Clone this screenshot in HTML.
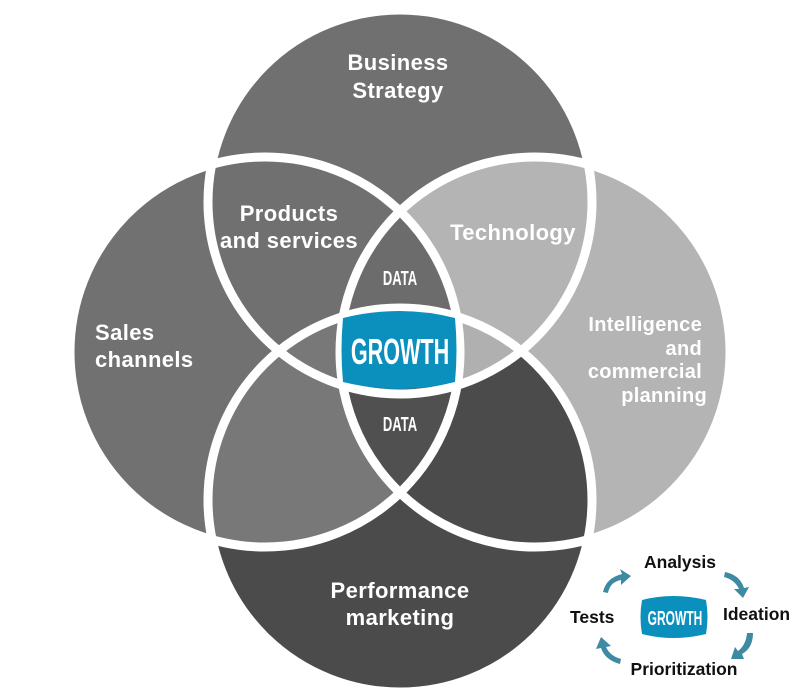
<!DOCTYPE html>
<html><head><meta charset="utf-8"><style>
html,body{margin:0;padding:0;background:#fff;}
svg{display:block;}
.w{font-family:"Liberation Sans",sans-serif;font-weight:bold;fill:#fff;}
.k{font-family:"Liberation Sans",sans-serif;font-weight:bold;fill:#111;}
</style></head><body>
<svg width="800" height="700" viewBox="0 0 800 700" xmlns="http://www.w3.org/2000/svg">
<defs>
<clipPath id="cL"><circle cx="265" cy="352" r="195"/></clipPath>
<clipPath id="cR"><circle cx="535" cy="352" r="195"/></clipPath>
<clipPath id="cT"><circle cx="400" cy="202" r="192"/></clipPath>
<clipPath id="cB"><circle cx="400" cy="500" r="192"/></clipPath>
</defs>
<circle cx="265" cy="352" r="195" fill="#717171"/>
<circle cx="400" cy="202" r="192" fill="#707070"/>
<circle cx="535" cy="352" r="195" fill="#b4b4b4"/>
<circle cx="400" cy="500" r="192" fill="#4b4b4b"/>
<g clip-path="url(#cL)"><circle cx="400" cy="500" r="192" fill="#787878"/></g>
<g clip-path="url(#cR)"><g clip-path="url(#cT)"><circle cx="400" cy="500" r="192" fill="#b0b0b0"/></g></g>
<g clip-path="url(#cL)"><g clip-path="url(#cR)"><circle cx="400" cy="202" r="192" fill="#6c6c6c"/></g></g>
<g clip-path="url(#cL)"><g clip-path="url(#cR)"><circle cx="400" cy="500" r="192" fill="#505050"/></g></g>
<g fill="none" stroke="#fff" stroke-width="9">
<circle cx="265" cy="352" r="195"/>
<circle cx="535" cy="352" r="195"/>
<circle cx="400" cy="202" r="192"/>
<circle cx="400" cy="500" r="192"/>
</g>
<path d="M343,318 Q400,304 455,318 Q458,350 455,382 Q400,396 343,382 Q340,350 343,318 Z" fill="#0b8fbd"/>
<text class="w" x="400" y="364" text-anchor="middle" font-size="36" transform="translate(400 0) scale(0.6 1) translate(-400 0)">GROWTH</text>
<text class="w" x="400" y="285" text-anchor="middle" font-size="20" transform="translate(400 0) scale(0.65 1) translate(-400 0)">DATA</text>
<text class="w" x="400" y="431" text-anchor="middle" font-size="20" transform="translate(400 0) scale(0.65 1) translate(-400 0)">DATA</text>
<g class="w" font-size="22" letter-spacing="0.4">
<text x="398" y="70" text-anchor="middle">Business</text>
<text x="398" y="98" text-anchor="middle">Strategy</text>
<text x="289" y="221" text-anchor="middle">Products</text>
<text x="289" y="248" text-anchor="middle">and services</text>
<text x="513" y="240" text-anchor="middle">Technology</text>
<text x="95" y="340">Sales</text>
<text x="95" y="367">channels</text>
<text x="400" y="598" text-anchor="middle">Performance</text>
<text x="400" y="625" text-anchor="middle">marketing</text>
</g>
<g class="w" font-size="20" letter-spacing="0.3" text-anchor="end">
<text x="702" y="331">Intelligence</text>
<text x="702" y="355">and</text>
<text x="702" y="378">commercial</text>
<text x="707" y="402">planning</text>
</g>
<g class="k" font-size="17.5">
<text x="680" y="568" text-anchor="middle">Analysis</text>
<text x="723" y="620">Ideation</text>
<text x="570" y="623">Tests</text>
<text x="684" y="675" text-anchor="middle">Prioritization</text>
</g>
<path d="M642,600 Q673,592 706,600 Q709,617 706,634 Q673,642 642,634 Q639,617 642,600 Z" fill="#0b8fbd"/>
<text class="w" x="675" y="625" text-anchor="middle" font-size="20" transform="translate(675 0) scale(0.6 1) translate(-675 0)">GROWTH</text>
<g fill="#3e8aa3">
<path d="M603,592 Q606,578 622,574 L620,569 L631,576 L621,585 L621,580 Q610,582 608,593 Z"/>
<path d="M725,572 Q740,575 744,588 L749,587 L743,598 L734,589 L739,589 Q735,580 724,577 Z"/>
<path d="M753,633 Q753,648 742,654 L744,659 L731,659 L735,647 L738,651 Q746,645 747,633 Z"/>
<path d="M620,664 Q605,660 601,648 L596,649 L601,637 L611,646 L606,647 Q610,656 621,659 Z"/>
</g>
</svg>
</body></html>
